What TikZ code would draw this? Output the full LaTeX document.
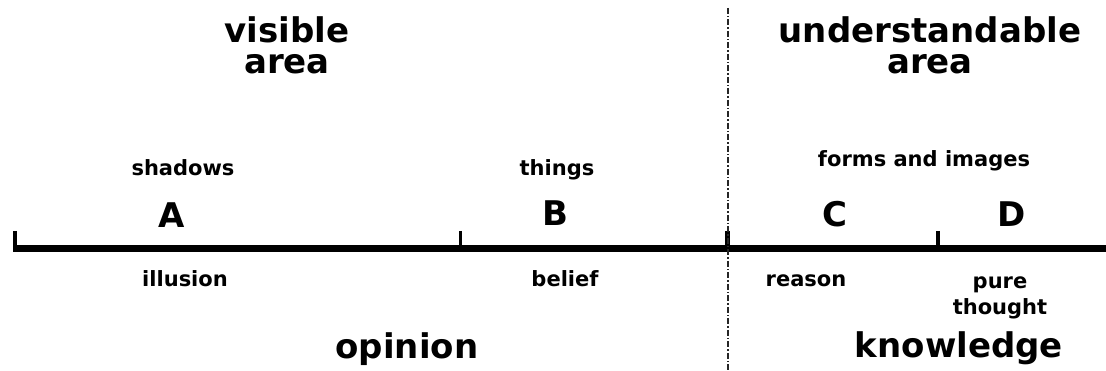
\documentclass[tikz,border=0pt]{standalone}
\usepackage{fontspec}
\setmainfont{DejaVu Sans}
\begin{document}
\begin{tikzpicture}[x=1pt,y=-1pt,
  bigtext/.style={inner sep=0pt, align=center, font=\fontsize{34}{31}\selectfont\bfseries},
  smalltext/.style={inner sep=0pt, align=center, font=\fontsize{21}{26}\selectfont\bfseries},
  letter/.style={inner sep=0pt, font=\fontsize{34}{34}\selectfont\bfseries}]
\useasboundingbox (0,0) rectangle (1106,371);
% headings
\node[bigtext] (visible) at (287,45) {visible\\area};
\node[bigtext] (understandable) at (930,45) {understandable\\area};
% labels above the line
\node[smalltext, anchor=base] (shadows) at (183,176) {shadows};
\node[smalltext, anchor=base] (things) at (557,176) {things};
\node[smalltext, anchor=base] (forms) at (924,167) {forms and images};
\node[letter, anchor=base] (a) at (172,228) {A};
\node[letter, anchor=base] (b) at (555,226) {B};
\node[letter, anchor=base] (c) at (835,227) {C};
\node[letter, anchor=base] (d) at (1012,227) {D};
% labels below the line
\node[smalltext, anchor=base] (illusion) at (185,287) {illusion};
\node[smalltext, anchor=base] (belief) at (565,287) {belief};
\node[smalltext, anchor=base] (reason) at (806,287) {reason};
\node[smalltext] (pure) at (1000,298) {pure\\thought};
\node[bigtext, anchor=base] (opinion) at (407,359) {opinion};
\node[bigtext, anchor=base] (knowledge) at (959,358) {knowledge};
% the line and its ticks
\coordinate (start) at (13,249);
\coordinate (end) at (1106,249);
\coordinate (t0top) at (15,231);
\coordinate (t0bot) at (15,252);
\coordinate (t1top) at (460,231);
\coordinate (t1bot) at (460,249);
\coordinate (t2top) at (727,231);
\coordinate (t2bot) at (727,249);
\coordinate (t3top) at (938,231);
\coordinate (t3bot) at (938,249);
\draw[line width=7pt] (start) -- (end);
\draw[line width=4pt] (t0top) -- (t0bot);
\draw[line width=3pt] (t1top) -- (t1bot);
\draw[line width=5pt] (t2top) -- (t2bot);
\draw[line width=4pt] (t3top) -- (t3bot);
% divider
\coordinate (divtop) at (728,8);
\coordinate (divbot) at (728,371);
\draw[line width=1.6pt, black!85, dash pattern=on 6pt off 2pt on 1.5pt off 2pt] (divtop) -- (divbot);
\end{tikzpicture}
\end{document}
